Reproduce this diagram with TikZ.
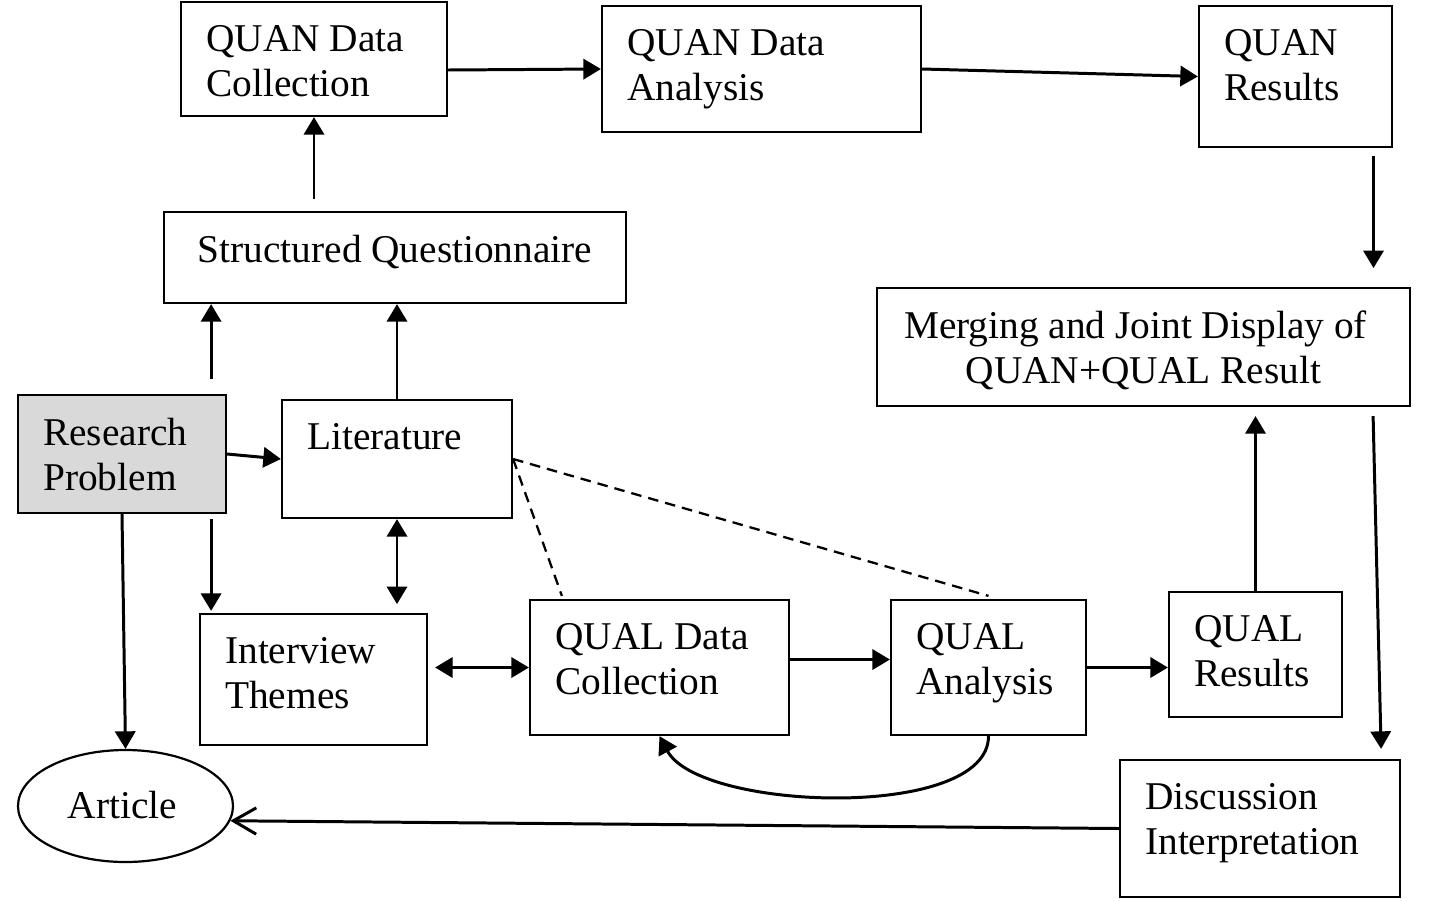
\documentclass[tikz,border=0pt]{standalone}
\usepackage{fontspec}
\setmainfont{Liberation Serif}
\usetikzlibrary{arrows.meta, shapes.geometric}
\newlength{\pxl}
\setlength{\pxl}{0.02cm}
\tikzset{>={Triangle[length=10pt, width=11.5pt]},
  stage/.style={draw, line width=1.25pt, inner sep=0pt},
  txt/.style={anchor=north west, align=left, inner sep=0pt, font=\fontsize{22.4}{25.5}\selectfont},
  link/.style={line width=1.7pt}}

\begin{document}
\begin{tikzpicture}[x=0.02cm, y=-0.02cm]
    \useasboundingbox (0,0) rectangle (1429,900);
    \node[stage, minimum width=266\pxl, minimum height=114\pxl] (qdc) at (314,59) {};
    \node[stage, minimum width=319\pxl, minimum height=126\pxl] (qda) at (761.5,69) {};
    \node[stage, minimum width=193\pxl, minimum height=141\pxl] (qres) at (1295.5,76.5) {};
    \node[stage, minimum width=462\pxl, minimum height=91\pxl] (sq) at (395,257.5) {};
    \node[stage, minimum width=533\pxl, minimum height=118\pxl] (mrg) at (1143.5,347) {};
    \node[stage, fill=black!15, minimum width=208\pxl, minimum height=118\pxl] (rp) at (122,454) {};
    \node[stage, minimum width=230\pxl, minimum height=118\pxl] (lit) at (397,459) {};
    \node[stage, minimum width=227\pxl, minimum height=131\pxl] (it) at (313.5,679.5) {};
    \node[stage, minimum width=259\pxl, minimum height=135\pxl] (qlc) at (659.5,667.5) {};
    \node[stage, minimum width=195\pxl, minimum height=135\pxl] (qla) at (988.5,667.5) {};
    \node[stage, minimum width=173\pxl, minimum height=125\pxl] (qlr) at (1255.5,654.5) {};
    \node[stage, minimum width=280\pxl, minimum height=137\pxl] (dis) at (1260,828.5) {};
    \node[stage, ellipse, minimum width=215\pxl, minimum height=112\pxl] (art) at (125.5,806) {};

    \node[txt] (qdct) at ([shift={(26,24)}]qdc.north west) {QUAN Data\\Collection};
    \node[txt] (qdat) at ([shift={(26,24)}]qda.north west) {QUAN Data\\Analysis};
    \node[txt] (qrest) at ([shift={(26,24)}]qres.north west) {QUAN\\Results};
    \node[txt, anchor=north, align=center] (sqt) at ([shift={(0,24)}]sq.north) {Structured Questionnaire};
    \node[txt, anchor=north, align=center] (mrgt) at ([shift={(0,24)}]mrg.north) {Merging and Joint Display of\hspace*{16\pxl}\\QUAN+QUAL Result};
    \node[txt] (rpt) at ([shift={(26,24)}]rp.north west) {Research\\Problem};
    \node[txt] (litt) at ([shift={(26,24)}]lit.north west) {Literature};
    \node[txt] (itt) at ([shift={(26,24)}]it.north west) {Interview\\Themes};
    \node[txt] (qlct) at ([shift={(26,24)}]qlc.north west) {QUAL Data\\Collection};
    \node[txt] (qlat) at ([shift={(26,24)}]qla.north west) {QUAL\\Analysis};
    \node[txt] (qlrt) at ([shift={(26,24)}]qlr.north west) {QUAL\\Results};
    \node[txt] (dist) at ([shift={(26,24)}]dis.north west) {Discussion\\Interpretation};
    \node[txt, anchor=center] (artt) at ([shift={(-3,-1)}]art.center) {Article};

    \draw[link, ->] ([shift={(0,11)}]qdc.east) -- (qda.west);
    \draw[link, ->] (qda.east) -- (qres.west);
    \draw[link, ->] ([shift={(78,8)}]qres.south) -- ([shift={(78,120)}]qres.south);
    \draw[link, <-] (qdc.south) -- ([shift={(0,-12)}]qdc.south |- sq.north);
    \draw[link, ->] ([shift={(-16,-15)}]rp.north east) -- ([shift={(-16,0)}]rp.north east |- sq.south);
    \draw[link, ->] (lit.north) -- (lit.north |- sq.south);
    \draw[link, ->] (rp.east) -- (lit.west);
    \draw[link, ->] ([shift={(-16,5)}]rp.south east) -- ([shift={(-16,-2)}]rp.south east |- it.north);
    \draw[link, ->] (rp.south) -- (art.north);
    \draw[link, <->] (lit.south) -- ([shift={(0,85)}]lit.south);
    \draw[link, <->] ([shift={(7,0)}]it.east |- qlc.west) -- (qlc.west);
    \draw[link, ->] ([shift={(0,-8)}]qlc.east) -- ([shift={(0,-8)}]qla.west);
    \draw[link, ->] (qla.east) -- (qla.east -| qlr.west);
    \draw[link, ->] (qlr.north) -- ([shift={(0,9)}]qlr.north |- mrg.south);
    \draw[link, ->] ([shift={(-38,9)}]mrg.south east) -- ([shift={(-20,-10)}]dis.north east);
    \draw[link, -{Straight Barb[length=13pt, width=15pt]}] (dis.west) -- (art.-8);
    \draw[link, ->] (qla.south) .. controls ([shift={(0,85)}]qla.south) and ([shift={(40,75)}]qlc.south) .. (qlc.south);
    \draw[line width=1.3pt, dash pattern=on 6pt off 4pt] (lit.east) -- ([shift={(33,-3)}]qlc.north west);
    \draw[line width=1.3pt, dash pattern=on 6pt off 4pt] (lit.east) -- ([shift={(0,-3)}]qla.north);
\end{tikzpicture}
\end{document}
